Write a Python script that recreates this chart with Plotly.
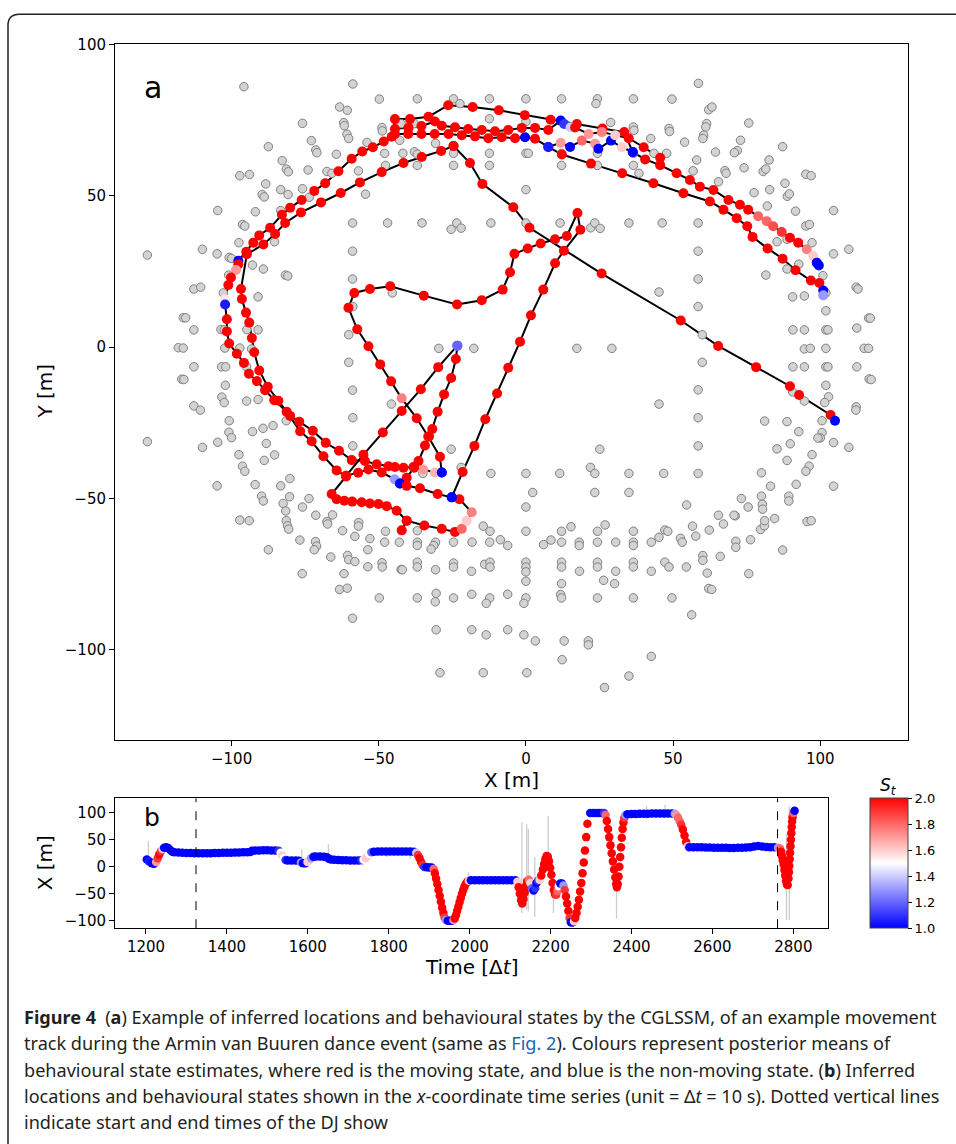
import plotly.graph_objects as go

W, H = 956, 1144

# ---------------- venue reference points (grey) ----------------
venue_nw = [(-95.8,86.0),(-58.8,86.9),(-49.8,81.9),(-63.3,79.3),(-60.7,78.2),(-75.9,73.9),(-61.9,74.1),(-61.7,73.1),
            (-48.9,72.5),(-48.8,71.4),(-60.8,70.3),(-60.2,68.9),(-72.9,68.2),(-54.0,67.6),(-87.5,66.2),(-71.4,65.1),
            (-71.0,64.2),(-64.4,63.7),(-48.0,64.0),(-82.8,61.6),(-81.4,58.8),(-80.7,57.9),(-74.0,58.5),(-67.6,58.0),
            (-65.9,57.4),(-56.9,58.2),(-47.7,60.0),(-97.2,56.6),(-93.9,57.0),(-88.4,53.9),(-75.9,52.3),(-83.3,52.0),
            (-89.6,50.4),(-88.9,49.6),(-80.8,50.4),(-73.6,49.5),(-54.5,50.5),(-104.7,45.1),(-91.9,44.7),(-83.3,45.1),
            (-58.9,41.0),(-47.0,41.0),(-96.3,40.5),(-95.5,40.0),(-97.5,34.5),(-85.4,34.8),(-109.9,32.3),(-104.9,30.8),
            (-100.8,29.6),(-100.0,29.3),(-58.9,31.7),(-128.6,30.4),(-92.9,27.1),(-89.2,25.8),(-101.0,23.8),(-81.7,23.8),
            (-80.9,23.5),(-58.9,22.5),(-112.8,19.2),(-110.5,19.8)]
venue_w = [(-102.8,17.9),(-91.0,16.6),(-116.4,9.7),(-115.6,9.7),(-112.8,5.7),(-103.6,5.8),(-102.5,5.7),(-94.8,5.8),
           (-91.0,5.7),(-118.1,-0.2),(-116.4,-0.3),(-102.3,-0.3),(-97.2,-0.3),(-93.2,-0.6),(-112.8,-6.5),(-103.4,-6.5),
           (-102.0,-6.5),(-94.9,-6.5),(-116.9,-10.6),(-116.2,-10.7),(-102.1,-12.6),(-103.3,-16.5),(-102.5,-18.3),
           (-94.9,-17.8),(-91.0,-17.3),(-112.8,-19.4),(-110.6,-20.8),(-100.8,-24.3),(-81.4,-24.3),(-92.9,-27.9),
           (-89.3,-26.8),(-85.9,-25.9),(-100.9,-28.1),(-100.0,-29.9),(-128.6,-31.2),(-104.7,-31.4),(-109.9,-33.1),
           (-88.2,-31.8),(-58.8,-32.6),(-97.5,-35.5),(-88.9,-37.4),(-85.4,-35.6),(-96.3,-39.3),(-95.5,-41.0),
           (-80.2,-43.4),(-104.9,-45.8),(-92.0,-45.4),(-83.3,-45.8),(-89.8,-49.2),(-89.2,-50.8),(-80.3,-49.4),
           (-73.7,-50.0),(-82.5,-51.6),(-81.6,-54.1),(-75.9,-52.8),(-71.4,-55.5),(-65.7,-55.4),(-97.2,-57.1),
           (-94.0,-57.3),(-81.4,-57.3),(-67.6,-57.6),(-56.8,-57.9),(-45.4,17.9),(-45.7,-18.8),(-60.2,4.1),
           (-60.2,-5.0),(-58.9,-14.2),(-58.8,-23.3),(-58.8,13.4)]
venue_sw = [(-81.0,-59.0),(-80.6,-60.1),(-67.4,-58.4),(-56.9,-59.1),(-62.3,-60.6),(-47.7,-60.8),(-58.1,-62.5),
            (-53.0,-63.2),(-48.0,-64.4),(-43.0,-64.4),(-76.8,-63.7),(-71.5,-64.2),(-71.1,-65.7),(-71.9,-66.9),
            (-87.5,-66.9),(-53.7,-66.9),(-66.3,-69.3),(-60.6,-68.8),(-60.2,-70.2),(-58.1,-70.8),(-48.9,-71.2),
            (-48.8,-72.6),(-42.4,-73.4),(-53.7,-72.5),(-76.0,-74.8),(-61.8,-74.8),(-63.3,-80.0),(-60.7,-79.6),
            (-49.8,-82.8),(-58.9,-89.5)]
venue_s = [(-36.9,-60.6),(-14.5,-59.1),(-12.2,-60.8),(0.0,-60.8),(12.1,-60.8),(15.3,-59.3),(24.3,-60.8),(26.9,-58.7),
           (36.5,-60.8),(47.2,-60.4),(-36.9,-64.4),(-36.9,-65.5),(-30.7,-64.4),(-31.3,-65.5),(-32.2,-66.7),
           (-24.6,-64.4),(-18.3,-64.4),(-12.3,-64.4),(-8.7,-63.6),(-6.2,-65.5),(6.0,-65.2),(8.5,-63.7),(12.1,-64.4),
           (18.1,-64.4),(18.1,-65.5),(24.3,-64.4),(30.5,-64.4),(36.5,-64.4),(36.5,-65.5),(42.6,-64.4),(45.2,-62.8),
           (-42.0,-73.5),(-36.9,-71.0),(-36.9,-72.6),(-30.7,-73.5),(-24.6,-71.3),(-24.6,-72.6),(-18.5,-74.0),
           (-14.0,-71.7),(-12.2,-71.0),(-12.2,-72.6),(0.0,-71.0),(0.0,-72.6),(0.0,-74.2),(0.0,-77.3),(12.1,-71.0),
           (12.1,-72.6),(12.1,-78.1),(18.2,-74.0),(24.3,-71.0),(24.3,-72.6),(26.4,-77.0),(30.1,-78.1),(30.5,-74.0),
           (36.5,-71.0),(36.5,-72.6),(42.6,-74.0),(47.2,-71.0),(-36.9,-82.8),(-30.5,-81.3),(-30.8,-84.1),
           (-24.6,-82.8),(-18.4,-81.6),(-12.3,-82.8),(-13.5,-84.6),(-6.2,-81.6),(0.0,-82.8),(-0.7,-84.6),
           (11.8,-81.7),(12.1,-82.8),(24.3,-82.8),(36.5,-82.8),(-30.5,-93.3),(-18.4,-93.3),(-13.5,-95.0),
           (-6.2,-93.3),(-0.7,-95.0),(3.2,-97.0),(13.0,-97.0),(21.2,-97.0),(21.2,-98.3),(12.3,-103.2),
           (42.6,-102.1),(-29.2,-107.5),(-14.5,-107.5),(0.3,-107.5),(35.0,-108.6),(26.7,-112.4)]
venue_se = [(65.4,-55.5),(71.1,-55.7),(56.6,-59.1),(48.2,-60.8),(52.5,-63.1),(53.1,-64.4),(57.7,-62.4),(62.3,-60.4),
            (67.1,-58.4),(71.3,-64.1),(71.3,-66.1),(76.3,-63.6),(79.7,-60.2),(81.0,-59.0),(81.1,-57.3),(84.5,-56.6),
            (95.5,-57.6),(96.9,-57.3),(87.2,-67.0),(48.6,-72.6),(54.5,-72.6),(60.1,-68.8),(60.1,-70.4),(66.0,-69.1),
            (61.6,-74.6),(75.7,-74.8),(62.1,-79.7),(63.1,-80.0),(49.6,-82.8),(56.3,-88.4)]
venue_n = [(-36.9,82.0),(-24.6,82.0),(-22.4,80.4),(-12.4,82.0),(0.0,82.0),(12.1,82.0),(24.3,82.0),(23.8,80.4),
           (36.5,82.0),(-42.4,73.8),(-37.9,73.8),(-12.4,75.4),(0.0,74.5),(28.8,74.2),(36.5,72.7),(36.7,71.6),
           (42.4,68.9),(-42.9,68.3),(-30.7,67.3),(-41.8,64.0),(-37.9,64.5),(-36.9,63.7),(-24.6,64.0),(-12.4,64.0),
           (0.0,64.0),(0.8,64.0),(12.1,64.0),(24.3,64.0),(36.5,64.0),(43.5,64.0),(-36.9,60.0),(-24.6,60.0),
           (-12.4,60.0),(12.1,60.0),(24.3,60.0),(36.5,60.0),(38.4,57.4),(0.0,52.0),(-35.3,41.0),(-25.4,38.9),
           (-23.5,41.0),(-22.0,39.3),(-11.9,41.0),(0.0,41.0),(11.6,41.0),(22.0,39.4),(23.4,41.0),(25.2,39.2),
           (35.0,41.0),(46.3,41.0)]
venue_ne = [(58.6,87.1),(49.6,81.9),(62.1,78.4),(63.2,79.3),(75.7,74.0),(61.4,73.8),(61.1,72.7),(48.6,72.2),
            (48.8,71.2),(60.4,70.0),(60.1,68.9),(72.9,68.3),(71.8,64.9),(70.8,64.2),(53.9,67.7),(87.2,66.2),
            (47.8,64.0),(64.4,64.4),(58.0,61.8),(82.6,61.8),(80.6,58.0),(81.5,58.8),(74.1,59.2),(67.6,58.3),
            (68.0,57.4),(56.8,58.2),(95.1,57.1),(96.9,56.6),(65.4,54.6),(88.0,54.1),(77.5,51.0),(82.8,52.0),
            (88.8,49.8),(89.5,50.6),(82.0,46.6),(91.6,44.9),(104.5,45.1),(95.1,40.0),(96.3,40.5),(58.5,41.0),
            (97.2,34.5),(88.7,35.6),(85.3,34.8),(109.7,32.3),(104.5,30.8),(58.5,31.7),(92.7,27.4),(88.7,25.8),
            (81.5,23.8),(58.5,22.5),(100.9,23.6),(112.2,19.8),(112.8,19.2)]
venue_e = [(90.6,16.6),(94.6,16.9),(101.9,17.9),(58.5,13.4),(101.9,12.0),(116.4,9.6),(117.0,9.6),(90.7,5.7),
           (94.6,5.7),(101.9,5.7),(102.6,5.7),(112.4,6.3),(59.9,4.1),(94.6,-0.6),(96.6,-0.4),(101.9,-0.4),
           (114.9,-0.4),(116.4,-0.4),(59.9,-5.0),(90.7,-6.5),(94.6,-6.5),(101.9,-6.5),(102.6,-6.5),(112.4,-6.5),
           (101.9,-12.6),(116.6,-10.5),(117.3,-10.7),(58.5,-14.1),(90.6,-14.8),(94.6,-17.8),(102.8,-16.4),
           (101.5,-18.3),(112.2,-19.7),(112.1,-20.8),(58.5,-23.3),(81.1,-24.4),(88.7,-24.6),(100.6,-24.3),
           (92.7,-27.9),(100.6,-28.2),(100.0,-30.0),(99.2,-30.0),(104.5,-31.5),(109.7,-33.1),(89.8,-31.9),
           (85.3,-33.6),(58.5,-32.6),(97.2,-35.5),(88.7,-37.4),(96.2,-39.3),(95.1,-41.0),(46.8,-41.7),(58.5,-41.7),
           (80.0,-41.5),(104.5,-45.9),(91.8,-45.3),(83.1,-45.9),(73.2,-50.0),(80.0,-49.2),(80.3,-51.9),(80.4,-53.5),
           (89.3,-49.2),(89.3,-50.8),(75.5,-52.8),(54.6,-52.1),(70.7,-55.5)]
venue_c = [(-29.6,-0.4),(-17.7,-0.4),(17.3,-0.4),(29.2,-0.4),(45.2,-18.8),(45.2,18.2),(-25.4,-33.7),(25.1,-33.7),
           (-22.0,-39.7),(-11.9,-41.7),(0.0,-41.7),(11.5,-41.7),(21.9,-39.7),(23.4,-41.7),(35.0,-41.7),(2.3,-48.0),
           (23.4,-48.0),(35.0,-48.0),(0.0,-52.8),(-35.0,-41.7)]

# ---------------- inferred track (x, y, state) ----------------
seg_a = [(36.3,64.4,1.0),(33.4,71.0,2),(26.0,72.2,2),(17.3,73.7,2),(8.4,75.1,2),(-0.4,76.6,2),(-9.2,78.2,2),
         (-18.1,79.3,2),(-26.4,79.9,2),(-33.1,76.1,2),(-39.4,75.3,2),(-44.5,75.3,2),(-45.6,69.5,2),(-48.3,67.9,2),
         (-52.0,66.0,2),(-55.6,64.6,2),(-59.2,62.2,2),(-63.7,58.1,2),(-68.2,54.1,2),(-71.9,51.6,2),(-76.2,48.6,2),
         (-80.1,46.0,2),(-82.9,43.7,2),(-86.9,39.4,2),(-90.6,36.9,2),(-92.6,34.5,2),(-95.0,31.5,2),(-97.7,28.5,1.0),
         (-97.7,27.4,2),(-98.5,25.5,1.7),(-100.2,23.0,2),(-101.1,20.5,2),(-102.2,15.7,1.55),(-102.2,14.1,1.05),
         (-101.6,9.2,2),(-101.6,5.2,2),(-100.8,1.2,2),(-98.2,-2.2,2),(-95.8,-5.2,2),(-94.1,-8.8,2),(-91.4,-11.2,2),
         (-88.6,-14.2,2),(-85.5,-17.5,2),(-81.3,-21.3,2),(-76.7,-27.8,2),(-72.8,-31.1,2),(-68.8,-36.0,2),
         (-64.3,-40.7,2),(-61.1,-42.7,2),(-66.0,-48.5,2),(-64.3,-50.2,2),(-61.7,-50.7,2),(-59.0,-51.0,2),
         (-55.8,-51.2,2),(-53.0,-51.6,2),(-50.1,-51.8,2),(-47.3,-52.5,2),(-43.9,-54.0,2),(-40.5,-57.3,2),
         (-34.5,-58.9,2),(-28.6,-60.0,2),(-24.1,-61.0,2),(-21.8,-60.0,1.8),(-20.1,-57.3,1.6),(-18.4,-54.5,1.75),
         (-22.6,-50.2,2),(-25.2,-49.6,1.0),(-21.5,-41.2,2),(-17.5,-32.6,2),(-13.8,-23.8,2),(-9.8,-15.3,2),
         (-6.0,-6.8,2),(-2.0,1.8,2),(1.7,10.5,2),(5.9,19.0,2),(9.9,27.7,2),(12.9,31.8,2),(18.5,38.8,2),
         (17.5,44.3,2),(13.9,36.7,2),(9.9,35.6,2),(5.0,34.2,2),(0.6,32.6,2),(-3.9,30.8,2),(-5.4,24.7,2),
         (-7.9,19.0,2),(-15.0,15.5,2),(-23.4,14.1,2),(-34.7,17.0,2),(-46.1,20.1,2),(-53.0,19.2,2),(-58.3,17.9,2),
         (-60.3,13.0,2),(-57.3,5.9,2),(-53.5,0.3,2),(-49.5,-5.7,2),(-45.8,-11.3,2),(-42.2,-16.9,1.75),
         (-37.1,-23.5,2),(-33.2,-29.5,2),(-29.2,-36.2,2),(-28.6,-41.4,1.0)]
seg_b = [(-24.6,66.4,2),(-28.8,64.8,2),(-35.4,62.8,2),(-41.6,60.8,2),(-49.0,57.8,2),(-56.4,54.4,2),(-62.9,50.9,2),
         (-69.6,47.8,2),(-76.4,44.5,2),(-81.8,41.0,2),(-85.2,37.4,2),(-89.2,33.9,2),(-94.8,30.7,2),(-96.8,19.2,2),
         (-96.5,15.9,2),(-95.1,11.4,2),(-94.0,8.1,2),(-93.1,3.0,2),(-92.3,-1.7,2),(-90.6,-7.7,2),(-87.7,-13.1,2),
         (-84.1,-17.7,2),(-80.1,-22.7,2),(-77.0,-24.6,2),(-72.4,-27.6,2),(-68.0,-31.6,2),(-63.5,-34.2,2),
         (-59.2,-37.3,2),(-54.7,-37.6,2),(-50.7,-38.7,2),(-46.7,-39.3,2),(-44.5,-39.6,2),(-41.6,-39.8,2),
         (-38.2,-39.6,2),(-34.9,-40.4,1.7),(-30.9,-41.4,1.65),(-28.6,-41.4,1.0)]
seg_c = [(-23.3,0.5,1.2),(-29.8,-6.6,2),(-35.7,-13.9,2),(-42.2,-21.1,2),(-48.6,-28.2,2),(-55.2,-35.5,2),
         (-61.1,-42.5,2)]
seg_d = [(-23.3,0.5,1.2),(-23.8,-3.9,2),(-25.4,-10.2,2),(-27.8,-15.6,2),(-30.0,-21.3,2),(-31.8,-27.0,2),
         (-32.9,-29.5,2),(-34.3,-32.5,2),(-36.5,-37.6,2),(-38.0,-39.8,2),(-40.5,-43.1,2),(-42.8,-45.0,1.0)]
seg_e = [(-61.1,-42.5,2),(-57.0,-41.5,2),(-53.5,-40.4,2),(-49.0,-41.4,2),(-44.6,-43.6,1.3),(-42.8,-45.0,1.0),
         (-40.5,-45.8,2),(-36.0,-46.6,2),(-30.0,-48.5,2),(-25.2,-49.6,1.0)]
seg_f = [(-42.2,-60.5,2),(-40.5,-57.3,2)]
seg_g = [(-44.5,70.4,2),(-40.0,70.4,2),(-35.5,70.4,2),(-31.0,70.4,2),(-26.3,70.4,2),(-21.8,70.0,2),(-17.3,69.6,2),
         (-12.8,69.0,2),(-8.2,69.3,2),(-3.7,69.0,2),(-0.3,69.3,1.0),(3.1,68.8,2),(7.6,66.1,1.05),(11.8,67.5,1.7),
         (15.0,66.1,1.0),(19.0,68.2,1.8),(23.5,67.2,1.7),(24.6,65.5,1.0),(28.9,68.2,1.0),(32.6,66.0,1.6),
         (36.3,64.4,1.0),(40.5,62.0,2),(45.6,60.1,2),(51.2,57.4,2),(55.7,55.2,2),(59.1,53.0,2),(63.7,51.9,2),
         (68.8,48.6,2),(72.7,47.0,2),(75.5,45.4,2),(78.9,43.2,1.8),(81.8,41.6,1.8),(84.0,39.9,1.85),(86.9,38.0,1.9),
         (89.7,36.1,2),(92.5,34.5,2),(95.4,32.3,1.75),(97.6,30.1,1.6),(98.8,27.9,1.0),(99.5,27.0,1.0)]
seg_h = [(-44.5,72.0,2),(-39.9,72.4,2),(-35.5,73.0,2),(-30.9,74.5,2),(-28.6,73.1,2),(-24.1,72.6,2),(-19.6,72.0,2),
         (-15.0,71.7,2),(-10.5,71.3,2),(-6.0,71.7,2),(-1.4,72.4,2),(3.1,72.4,2),(7.6,71.7,2),(11.8,74.8,1.0),
         (13.0,73.7,1.1),(15.2,72.6,1.4),(16.7,72.5,2),(21.3,70.4,1.7),(25.8,71.0,1.75),(30.3,70.0,1.6),
         (34.9,69.0,2),(40.0,66.0,2),(45.6,62.5,2)]
seg_r2 = [(7.6,66.1,1.05),(12.2,63.6,2),(22.1,60.6,2),(32.7,57.4,2),(43.3,54.1,2),(53.5,50.8,2),(62.5,48.1,2),
          (67.1,45.4,2),(71.6,42.6,2),(75.2,39.9,2),(77.0,36.4,2),(82.1,32.6,2),(87.2,29.2,2),(91.6,25.4,2),
          (96.8,22.0,2),(99.7,21.2,2),(101.0,18.7,1.0),(101.0,17.1,1.3)]
seg_diag = [(-24.6,66.4,2),(-19.0,60.8,2),(-14.8,53.9,2),(-4.3,46.2,2),(1.2,39.4,2),(25.7,24.3,2),(52.6,8.8,2),
            (65.3,0.4,2),(78.2,-6.6,2),(89.7,-12.9,2),(92.8,-15.8,2),(103.5,-22.4,2),(105.0,-24.3,1.0)]

# ---------------- panel b: x-coordinate time series (t, X, state) ----------------
ts_early = [(1202,13.5,1.0),(1208,10,1.05),(1214,6.7,1.0),(1220,5.5,1.0),(1225,9,1.7),(1229,16,1.9),(1233,23,2),
            (1237,29,1.9),(1241,33,1.4),(1245,35.5,1.0),(1250,36,1.0),(1255,35,1.0),(1260,31,1.0),(1265,28,1.0),
            (1270,27,1.0),(1280,26.5,1.0),(1290,26,1.0),(1300,25.5,1.0),(1310,25.5,1.0),(1320,25,1.0),(1330,25,1.0),
            (1340,25,1.0),(1350,25,1.0),(1360,25,1.0),(1370,25.5,1.0),(1380,25.5,1.0),(1390,26,1.0),(1400,26,1.0),
            (1410,26,1.0),(1420,26.5,1.0),(1430,26.5,1.0),(1440,27,1.0),(1450,27,1.0),(1458,27.5,1.0),
            (1462,29.5,1.0),(1470,30,1.0),(1480,30,1.0),(1490,30.5,1.0),(1500,30.5,1.0),(1510,30,1.0),(1520,30,1.0),
            (1528,29.5,1.1),(1533,26,1.5),(1537,21,1.6),(1541,16,1.5),(1545,12.5,1.1),(1550,11.7,1.0),
            (1560,11.7,1.0),(1570,11.7,1.0),(1578,11,1.0),(1583,8,1.3),(1588,6.5,1.0),(1594,6.5,1.0),(1599,9,1.6),
            (1603,12,1.6),(1608,16,1.3),(1614,18.5,1.0),(1620,19,1.0),(1630,19,1.0),(1640,18.5,1.0),(1647,17.5,1.0),
            (1652,15,1.0),(1657,13.5,1.0),(1665,13,1.0),(1675,12.5,1.0),(1685,12,1.0),(1695,12,1.0),
            (1705,11.7,1.0),(1715,11.7,1.0),(1725,11.7,1.0),(1733,12,1.1),(1738,13,1.5),(1743,16,1.6),
            (1748,20,1.6),(1752,24,1.5),(1757,27,1.2),(1763,28,1.0),(1773,28.5,1.0),(1783,28.5,1.0),
            (1793,28.5,1.0),(1803,28.5,1.0),(1813,28.5,1.0),(1823,28.5,1.0),(1833,28.5,1.0),(1843,28.5,1.0),
            (1853,28.5,1.0),(1862,28,1.0),(1868,26,1.4)]
ts_mid = [(1872,22,1.9),(1876,16,2),(1880,9,2),(1884,3,1.9),(1888,-0.5,1.1),(1894,-1,1.0),(1900,-1.5,1.0),
          (1906,-1.5,1.0),(1911,-4,1.8),(1914,-12,2),(1917,-22,2),(1920,-32,2),(1923,-43,2),(1926,-54,2),
          (1929,-65,2),(1932,-76,2),(1935,-86,2),(1938,-94,1.9),(1941,-99,1.3),(1946,-100,1.0),(1951,-100,1.0),
          (1956,-100,1.0),(1960,-99,1.7),(1963,-96,2),(1966,-90,2),(1969,-82,2),(1972,-74,2),(1975,-66,2),
          (1978,-58,2),(1981,-50,2),(1984,-43,2),(1987,-37,2),(1990,-32,2),(1994,-28,2),(1998,-26,1.6),
          (2003,-25,1.0),(2013,-25,1.0),(2023,-25,1.0),(2033,-25,1.0),(2043,-25,1.0),(2053,-25,1.0),(2063,-25,1.0),
          (2073,-25,1.0),(2083,-25,1.0),(2093,-25,1.0),(2103,-25,1.0),(2113,-25,1.0),(2118,-28,1.6),(2121,-38,2),
          (2124,-50,2),(2127,-62,2),(2130,-68,2),(2133,-60,2),(2136,-48,2),(2139,-36,2),(2142,-27,2),
          (2146,-24,1.8),(2150,-30,1.6),(2154,-40,1.2),(2158,-44,1.0),(2162,-40,1.1),(2165,-30,1.0),
          (2169,-26,1.1),(2173,-24,1.6),(2177,-16,2),(2181,-5,2),(2184,5,2),(2187,14,2),(2190,20,2),(2193,19,2),
          (2196,10,2),(2199,-2,2),(2202,-15,2),(2205,-30,2),(2208,-43,2),(2211,-51,2),(2214,-52,1.9),
          (2217,-45,1.8),(2220,-36,1.5),(2224,-31,1.0),(2228,-31,1.0),(2232,-35,1.3),(2235,-43,1.9),(2238,-55,2),
          (2241,-68,2),(2244,-82,2),(2247,-95,1.9),(2250,-103,1.0),(2254,-103.5,1.0),(2258,-101,1.6)]
ts_late = [(2261,-95,2),(2264,-86,2),(2267,-74,2),(2270,-61,2),(2273,-46,2),(2276,-30,2),(2279,-12,2),(2282,8,2),
           (2285,30,2),(2288,55,2),(2291,80,2),(2294,96,1.5),(2298,100,1.0),(2305,100,1.0),(2312,100,1.0),
           (2319,100,1.0),(2326,100,1.0),(2332,100,1.1),(2336,96,1.8),(2339,85,2),(2342,70,2),(2345,55,2),
           (2348,40,2),(2351,25,2),(2354,10,2),(2357,-5,2),(2360,-20,2),(2362,-32,2),(2364,-38,2),(2366,-32,2),
           (2368,-18,2),(2370,0,2),(2372,18,2),(2374,36,2),(2376,54,2),(2378,70,2),(2380,82,2),(2382,91,1.9),
           (2385,96,1.3),(2390,97.5,1.0),(2400,98,1.0),(2410,98,1.0),(2420,98.5,1.0),(2430,98.5,1.0),
           (2440,98.5,1.0),(2450,99,1.0),(2460,99,1.0),(2470,99,1.0),(2480,99,1.0),(2490,99,1.0),(2500,99,1.0),
           (2507,98.5,1.3),(2511,96,1.7),(2515,91,1.8),(2519,85,1.8),(2523,78,1.9),(2527,69,2),(2531,58,2),
           (2535,46,2),(2539,38,1.6),(2543,36,1.0),(2553,36,1.0),(2563,36,1.0),(2573,36,1.0),(2583,35.8,1.0),
           (2593,35.6,1.0),(2603,35.5,1.0),(2613,35.5,1.0),(2623,35.3,1.0),(2633,35.2,1.0),(2643,35,1.0),
           (2653,35,1.0),(2663,35.2,1.0),(2673,35.5,1.0),(2683,35.7,1.0),(2693,36,1.0),(2703,37.5,1.0),
           (2713,38.5,1.0),(2723,37.5,1.0),(2733,36.5,1.0),(2743,36,1.0),(2753,36,1.0),(2762,35.5,1.3),
           (2767,34,1.8),(2770,28,2),(2772,20,2),(2774,12,2),(2776,4,2),(2778,-6,2),(2780,-16,2),(2782,-26,2),
           (2784,-33,2),(2786,-34,2),(2788,-22,2),(2789,-10,2),(2790,2,2),(2791,14,2),(2792,26,2),(2793,38,2),
           (2794,50,2),(2795,62,2),(2796,74,2),(2797,84,2),(2798,92,2),(2800,100,1.8),(2803,104,1.0)]

# raw-observation spread (grey vertical ticks): time, low, high
spike_t  = [1206, 1408, 1424, 1585, 1651, 1795, 1820, 1853, 1997, 2129, 2141, 2145, 2161, 2194, 2207, 2363, 2437, 2483, 2652, 2783, 2790]
spike_lo = [8, 22, 23, 8, 18, 18, 22, 15, -28, -86, -80, -83, -93, 18, -86, -96, 88, 90, 30, -99, -99]
spike_hi = [48, 31, 30, 33, 42, 35, 32, 33, -10, 82, 79, 70, 18, 94, -13, -1, 113, 115, 38, 61, 112]

show_times = [1323.6, 2761]   # start and end of the DJ show

axis_ticks = [-100, -50, 0, 50, 100]
axis_ticktext = ['\u2212100', '\u221250', '0', '50', '100']
time_ticks = [1200, 1400, 1600, 1800, 2000, 2200, 2400, 2600, 2800]
state_ticks = [1.0, 1.2, 1.4, 1.6, 1.8, 2.0]

# ---------------- figure ----------------
def px_x(px):
    return px / W

def px_y(py):
    return 1 - py / H

venue = venue_nw + venue_w + venue_sw + venue_s + venue_se + venue_n + venue_ne + venue_e + venue_c
segments = [seg_a, seg_b, seg_c, seg_d, seg_e, seg_f, seg_g, seg_h, seg_r2, seg_diag]

line_x, line_y = [], []
for seg in segments:
    line_x += [p[0] for p in seg] + [None]
    line_y += [p[1] for p in seg] + [None]
mk_x = [p[0] for seg in segments for p in seg]
mk_y = [p[1] for seg in segments for p in seg]
mk_s = [p[2] for seg in segments for p in seg]

ts = ts_early + ts_mid + ts_late

fig = go.Figure()

# panel a
fig.add_trace(go.Scatter(x=line_x, y=line_y, mode='lines', line=dict(color='black', width=2),
                         xaxis='x', yaxis='y', hoverinfo='skip', showlegend=False))
fig.add_trace(go.Scatter(x=[p[0] for p in venue], y=[p[1] for p in venue], mode='markers',
                         marker=dict(size=8.5, color='rgb(211,211,211)', line=dict(color='rgb(128,128,128)', width=1)),
                         xaxis='x', yaxis='y', showlegend=False))
fig.add_trace(go.Scatter(x=mk_x, y=mk_y, mode='markers',
                         marker=dict(size=10, color=mk_s, coloraxis='coloraxis', line=dict(width=0)),
                         xaxis='x', yaxis='y', showlegend=False))

# panel b
sx, sy = [], []
for t, lo, hi in zip(spike_t, spike_lo, spike_hi):
    sx += [t, t, None]
    sy += [lo, hi, None]
fig.add_trace(go.Scatter(x=sx, y=sy, mode='lines', line=dict(color='rgb(205,205,205)', width=1.3),
                         xaxis='x2', yaxis='y2', hoverinfo='skip', showlegend=False))
fig.add_trace(go.Scatter(x=[p[0] for p in ts], y=[p[1] for p in ts], mode='markers',
                         marker=dict(size=8.5, color=[p[2] for p in ts], coloraxis='coloraxis', line=dict(width=0)),
                         xaxis='x2', yaxis='y2', showlegend=False))

for t in show_times:
    fig.add_shape(type='line', xref='x2', yref='y2 domain', x0=t, x1=t, y0=0, y1=1,
                  line=dict(color='black', width=1, dash='dash'))

tickfont = dict(family='DejaVu Sans', size=15, color='black')
common = dict(showline=True, mirror=True, linecolor='black', linewidth=1, ticks='outside', ticklen=5,
              tickwidth=1, tickcolor='black', showgrid=False, zeroline=False, tickfont=tickfont)

fig.update_layout(
    width=W, height=H, margin=dict(l=0, r=0, t=0, b=0),
    paper_bgcolor='white', plot_bgcolor='white',
    xaxis=dict(domain=[px_x(115), px_x(908.3)], range=[-139.6, 129.9], anchor='y',
               tickvals=axis_ticks, ticktext=axis_ticktext, **common),
    yaxis=dict(domain=[px_y(738.7), px_y(36)], range=[-129.8, 100.2], anchor='x',
               tickvals=axis_ticks, ticktext=axis_ticktext, **common),
    xaxis2=dict(domain=[px_x(115), px_x(828.3)], range=[1123.4, 2886.4], anchor='y2',
                tickvals=time_ticks, **common),
    yaxis2=dict(domain=[px_y(928.3), px_y(797.3)], range=[-114, 127], anchor='x2',
                tickvals=axis_ticks, ticktext=axis_ticktext, **common),
    coloraxis=dict(cmin=1.0, cmax=2.0,
                   colorscale=[[0, 'rgb(0,0,255)'], [0.5, 'rgb(255,255,255)'], [1, 'rgb(255,0,0)']],
                   colorbar=dict(x=px_x(870), xanchor='left', y=px_y(797.3), yanchor='top',
                                 len=131 / H, lenmode='fraction', thickness=38, thicknessmode='pixels',
                                 xpad=0, ypad=0, outlinewidth=1, outlinecolor='#444',
                                 ticks='outside', ticklen=4, tickcolor='black',
                                 tickvals=state_ticks, ticktext=['%.1f' % v for v in state_ticks],
                                 tickfont=dict(family='DejaVu Sans', size=13, color='black'))),
)

ann = []
def add_text(text, px, py, size, family='DejaVu Sans', xanchor='center', yanchor='middle', angle=0, color='black'):
    ann.append(dict(text=text, x=px_x(px), y=px_y(py), xref='paper', yref='paper', showarrow=False,
                    xanchor=xanchor, yanchor=yanchor, textangle=angle,
                    font=dict(family=family, size=size, color=color)))

add_text('a', 152.5, 80, 30)
add_text('b', 151.7, 817, 25)
add_text('X [m]', 511.7, 778.5, 20)
add_text('Y [m]', 45, 387, 20, angle=-90)
add_text('Time [\u0394<i>t</i>]', 471.6, 967, 20)
add_text('X [m]', 45, 862.8, 20, angle=-90)
add_text('<i>S</i><sub><i>t</i></sub>', 888, 785, 17)

cap_font = 'Noto Sans'
cap_color = '#231f20'
cap_lines = [
    '<b>Figure 4</b>\u2002(<b>a</b>) Example of inferred locations and behavioural states by the CGLSSM, of an example movement',
    "track during the Armin van Buuren dance event (same as <span style='color:#1f64b4'>Fig. 2</span>). Colours represent posterior means of",
    'behavioural state estimates, where red is the moving state, and blue is the non-moving state. (<b>b</b>) Inferred',
    'locations and behavioural states shown in the <i>x</i>-coordinate time series (unit = \u0394<i>t</i> = 10 s). Dotted vertical lines',
    'indicate start and end times of the DJ show',
]
cap_y = [1018, 1044.5, 1071, 1097.5, 1124]
for txt, yy in zip(cap_lines, cap_y):
    add_text(txt, 22, yy, 18.1, family=cap_font, xanchor='left', color=cap_color)

fig.update_layout(annotations=ann)

# rounded frame around the figure
def pt(px, py):
    return '%.5f,%.5f' % (px_x(px), px_y(py))
frame_path = 'M ' + pt(8, 1160) + ' L ' + pt(8, 17.5) + ' Q ' + pt(8, 6.3) + ' ' + pt(19.5, 6.3) + ' L ' + pt(970, 6.3)
fig.add_shape(type='path', xref='paper', yref='paper', path=frame_path, line=dict(color='#222', width=1.5))

fig.write_html('out.html')
